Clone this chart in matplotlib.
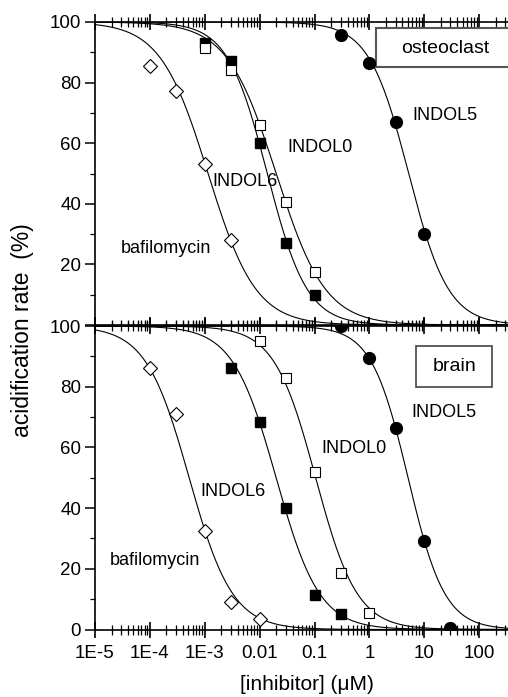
import numpy as np
import matplotlib
matplotlib.use('Agg')
import matplotlib.pyplot as plt
from matplotlib.ticker import FixedLocator, LogLocator, NullFormatter, MultipleLocator
from matplotlib.patches import Rectangle

plt.rcParams['font.family'] = ['Liberation Sans', 'DejaVu Sans']

# measured points, inhibitor concentration in uM
conc_baf = [1e-4, 3e-4, 1e-3, 3e-3]
conc_baf_brain = [1e-4, 3e-4, 1e-3, 3e-3, 1e-2]
conc_ind = [1e-3, 3e-3, 1e-2, 3e-2, 1e-1]
conc_ind6_brain = [3e-3, 1e-2, 3e-2, 1e-1, 3e-1]
conc_ind0_brain = [1e-2, 3e-2, 1e-1, 3e-1, 1]
conc_ind5 = [0.3, 1, 3, 10]
conc_ind5_brain = [0.3, 1, 3, 10, 30]

# osteoclast (top panel), % acidification rate
ost_baf = [85.5, 77.2, 53, 28]
ost_ind6 = [93, 87, 60, 27, 10]
ost_ind0 = [91.4, 84, 66, 40.5, 17.5]
ost_ind5 = [95.7, 86.6, 67, 30]

# brain (bottom panel)
brn_baf = [86, 71, 32.6, 9, 3.6]
brn_ind6 = [86, 68.4, 40, 11.5, 5]
brn_ind0 = [95, 83, 52, 18.7, 5.6]
brn_ind5 = [100, 89.5, 66.4, 29.3, 0.5]

# fitted curves: (IC50 in uM, Hill slope)
ost_fits = {'baf': (1.15e-3, 1.0), 'ind6': (0.0138, 1.2), 'ind0': (0.020, 0.97), 'ind5': (5.2, 1.2)}
brn_fits = {'baf': (5.2e-4, 1.1), 'ind6': (0.020, 1.1), 'ind0': (0.105, 1.15), 'ind5': (5.07, 1.3)}

tick_pos = [1e-5, 1e-4, 1e-3, 1e-2, 1e-1, 1, 10, 100]
tick_lab = ['1E-5', '1E-4', '1E-3', '0.01', '0.1', '1', '10', '100']


def hill(x, ic50, n):
    return 100.0 / (1.0 + (x / ic50) ** n)


fig = plt.figure(figsize=(5.08, 6.97), dpi=100)
W, H = 508.0, 697.0
ax_left = 95 / W
ax_w = 439 / W
ax_top = fig.add_axes([ax_left, (H - 325) / H, ax_w, 303 / H])
ax_bot = fig.add_axes([ax_left, (H - 629.5) / H, ax_w, 303.5 / H])

xs = np.logspace(-5, 3, 400)

mk_fill = dict(color='black', linestyle='none', zorder=5)
mk_open = dict(markerfacecolor='white', markeredgecolor='black', markeredgewidth=0.8,
               linestyle='none', zorder=5)


def draw(ax, fits, baf, ind6, ind0, ind5, cb, c6, c0, c5):
    for key in ['baf', 'ind6', 'ind0', 'ind5']:
        ic, n = fits[key]
        ax.plot(xs, hill(xs, ic, n), color='black', lw=0.8, zorder=2)
    ax.plot(cb, baf, marker='D', markersize=7.5, **mk_open)
    ax.plot(c6, ind6, marker='s', markersize=7, **mk_fill)
    ax.plot(c0, ind0, marker='s', markersize=7, **mk_open)
    ax.plot(c5, ind5, marker='o', markersize=8.5, **mk_fill)


draw(ax_top, ost_fits, ost_baf, ost_ind6, ost_ind0, ost_ind5,
     conc_baf, conc_ind, conc_ind, conc_ind5)
draw(ax_bot, brn_fits, brn_baf, brn_ind6, brn_ind0, brn_ind5,
     conc_baf_brain, conc_ind6_brain, conc_ind0_brain, conc_ind5_brain)

for ax in (ax_top, ax_bot):
    ax.set_xscale('log')
    ax.set_xlim(1e-5, 1e3)
    ax.set_ylim(0, 100)
    ax.xaxis.set_major_locator(FixedLocator(tick_pos + [1e3]))
    ax.xaxis.set_minor_locator(LogLocator(base=10, subs=np.arange(2, 10), numticks=20))
    ax.xaxis.set_minor_formatter(NullFormatter())
    ax.yaxis.set_major_locator(MultipleLocator(20))
    ax.yaxis.set_minor_locator(MultipleLocator(10))
    ax.tick_params(axis='x', which='major', direction='inout', length=12, width=1.2,
                   top=True, bottom=True, labelsize=13.5, pad=5)
    ax.tick_params(axis='x', which='minor', direction='inout', length=6.5, width=0.9,
                   top=True, bottom=True)
    ax.tick_params(axis='y', which='major', direction='out', length=7, width=1.1,
                   labelsize=13.5, pad=3)
    ax.tick_params(axis='y', which='minor', direction='out', length=3.5, width=0.9)
    for sp in ax.spines.values():
        sp.set_linewidth(1.2)

ax_top.set_xticklabels([])
ax_top.set_yticks([0, 20, 40, 60, 80, 100])
ax_top.set_yticklabels(['', '20', '40', '60', '80', '100'])
ax_bot.set_xticklabels(tick_lab + [''])

fs = 13
# curve labels, top panel
ax_top.text(0.0327, 58.7, 'INDOL0', fontsize=fs, va='center')
ax_top.text(1.35e-3, 47.2, 'INDOL6', fontsize=fs, va='center')
ax_top.text(2.98e-5, 25.4, 'bafilomycin', fontsize=fs, va='center')
ax_top.text(6.2, 69.0, 'INDOL5', fontsize=fs, va='center')
# curve labels, bottom panel
ax_bot.text(5.94, 71.4, 'INDOL5', fontsize=fs, va='center')
ax_bot.text(0.136, 59.5, 'INDOL0', fontsize=fs, va='center')
ax_bot.text(8.2e-4, 45.4, 'INDOL6', fontsize=fs, va='center')
ax_bot.text(1.88e-5, 22.7, 'bafilomycin', fontsize=fs, va='center')

# panel name boxes
ax_top.add_patch(Rectangle((0.640, 0.851), 0.33, 0.13, transform=ax_top.transAxes,
                           facecolor='white', edgecolor='#555555', lw=1.5, zorder=4))
ax_top.text(0.797, 0.914, 'osteoclast', transform=ax_top.transAxes, fontsize=14,
            ha='center', va='center', zorder=5)
ax_bot.add_patch(Rectangle((0.731, 0.799), 0.173, 0.135, transform=ax_bot.transAxes,
                           facecolor='white', edgecolor='#444444', lw=1.2, zorder=4))
ax_bot.text(0.818, 0.868, 'brain', transform=ax_bot.transAxes, fontsize=14,
            ha='center', va='center', zorder=5)

fig.text(23 / W, 1 - 330 / H, 'acidification rate  (%)', rotation=90,
         ha='center', va='center', fontsize=16.5)
fig.text(307 / W, 1 - 684 / H, '[inhibitor] (μM)', ha='center', va='center', fontsize=15)

fig.savefig('out.png', dpi=100)
